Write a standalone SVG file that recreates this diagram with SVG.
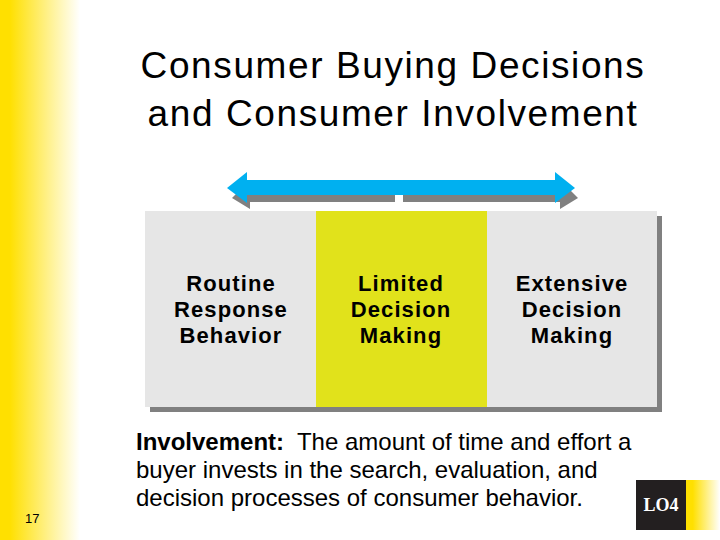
<svg xmlns="http://www.w3.org/2000/svg" width="720" height="540" viewBox="0 0 720 540">
<defs>
<linearGradient id="lg" x1="0" y1="0" x2="1" y2="0">
<stop offset="0" stop-color="#FFE000"/>
<stop offset="0.12" stop-color="#FFE000"/>
<stop offset="1" stop-color="#FFFFFF"/>
</linearGradient>
<linearGradient id="lg2" x1="0" y1="0" x2="1" y2="0">
<stop offset="0" stop-color="#FFE000"/>
<stop offset="0.2" stop-color="#FFE000"/>
<stop offset="1" stop-color="#FFFFFF"/>
</linearGradient>
<style>
.t{font-family:"Liberation Sans",Arial,sans-serif;fill:#000}
.title{font-size:37px;text-anchor:middle;letter-spacing:1.6px}
.lab{font-size:22px;font-weight:bold;text-anchor:middle;letter-spacing:1.1px}
.body{font-size:24px;white-space:pre}
</style>
</defs>
<rect width="720" height="540" fill="#fff"/>
<rect x="0" y="0" width="80" height="540" fill="url(#lg)"/>
<text class="t title" x="393" y="78">Consumer Buying Decisions</text>
<text class="t title" x="393" y="126">and Consumer Involvement</text>
<g id="connectors">
<path d="M232,198 L250,180 L250,186 L560,186 L560,180 L578,198 L560,209 L560,202 L250,202 L250,209 Z" fill="#808080"/>
<rect x="395" y="194" width="8" height="8" fill="#fff"/>
<path d="M227,188 L247,172 L247,180 L555,180 L555,172 L575,188 L555,203 L555,195 L247,195 L247,203 Z" fill="#00B0F0"/>
</g>
<rect x="150" y="216" width="512" height="196" fill="#808080"/>
<g id="n1">
<rect x="145" y="211" width="172" height="196" fill="#E6E6E6"/>
<text class="t lab" x="231" y="291">Routine</text>
<text class="t lab" x="231" y="317">Response</text>
<text class="t lab" x="231" y="343">Behavior</text>
</g>
<g id="n2">
<rect x="316" y="211" width="171" height="196" fill="#E1E21B"/>
<text class="t lab" x="401" y="291">Limited</text>
<text class="t lab" x="401" y="317">Decision</text>
<text class="t lab" x="401" y="343">Making</text>
</g>
<g id="n3">
<rect x="487" y="211" width="170" height="196" fill="#E6E6E6"/>
<text class="t lab" x="572" y="291">Extensive</text>
<text class="t lab" x="572" y="317">Decision</text>
<text class="t lab" x="572" y="343">Making</text>
</g>
<text class="t body" x="136" y="450"><tspan font-weight="bold">Involvement:</tspan>  The amount of time and effort a</text>
<text class="t body" x="136" y="478">buyer invests in the search, evaluation, and</text>
<text class="t body" x="136" y="506">decision processes of consumer behavior.</text>
<text class="t" x="25" y="523" font-size="13">17</text>
<rect x="686" y="480" width="34" height="50" fill="url(#lg2)"/>
<rect x="636" y="480" width="50" height="50" fill="#231F20"/>
<text x="661" y="511" font-family="'Liberation Serif','Times New Roman',serif" font-weight="bold" font-size="18" fill="#fff" text-anchor="middle">LO4</text>
</svg>
